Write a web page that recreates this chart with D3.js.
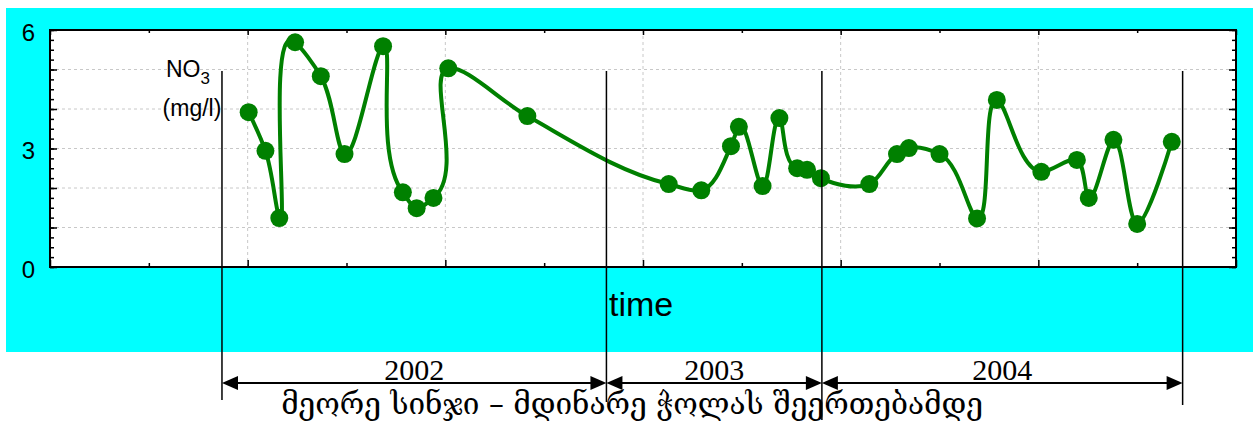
<!DOCTYPE html>
<html>
<head>
<meta charset="utf-8">
<script src="https://cdn.jsdelivr.net/npm/d3@7"></script>
<style>
  body { margin: 0; background: #fff; }
  svg { display: block; }
</style>
</head>
<body>
<div id="chart"></div>
<script>
(function () {

    var width = 1259;
    var height = 428;

    // sample position along the time axis (axis units) and NO3 concentration (mg/l)
    var sampleTime = [2.01, 2.18, 2.32, 2.48, 2.74, 2.98, 3.37, 3.57, 3.71, 3.88, 4.03, 4.83,
        6.26, 6.59, 6.89, 6.97, 7.21, 7.38, 7.56, 7.66, 7.80,
        8.29, 8.57, 8.69, 9.00, 9.38, 9.58, 10.03, 10.39, 10.51, 10.76, 11.00, 11.35];
    var no3 = [3.92, 2.94, 1.24, 5.69, 4.83, 2.86, 5.59, 1.89, 1.49, 1.75, 5.03, 3.82,
        2.10, 1.94, 3.06, 3.55, 2.05, 3.77, 2.50, 2.46, 2.25,
        2.10, 2.86, 3.01, 2.86, 1.23, 4.23, 2.41, 2.71, 1.75, 3.22, 1.09, 3.17];

    var yearBounds = [1.74, 5.63, 7.81, 11.46];
    var years = ["2002", "2003", "2004"];
    var yLabels = [0, 3, 6];
    var caption = "მეორე სინჯი – მდინარე ჭოლას შეერთებამდე";

    var margin = {left: 50, top: 30, right: 1236, bottom: 267};

    var x = d3.scaleLinear().domain([0, 12]).range([margin.left, margin.right]);
    var y = d3.scaleLinear().domain([0, 6]).range([margin.bottom, margin.top]);

    var svg = d3.select("#chart")
        .append("svg")
        .attr("width", width)
        .attr("height", height)
        .style("font-family", "'Liberation Sans', Arial, sans-serif");

    // background panel
    svg.append("rect")
        .attr("x", 6).attr("y", 8)
        .attr("width", 1247).attr("height", 344)
        .attr("fill", "#00ffff");

    svg.append("rect")
        .attr("x", x(0)).attr("y", y(6))
        .attr("width", x(12) - x(0)).attr("height", y(0) - y(6))
        .attr("fill", "#fff");

    // grid
    var grid = svg.append("g").attr("stroke", "#c8c8c8").attr("stroke-dasharray", "3,3").attr("stroke-width", 1);
    grid.selectAll(".gy").data([1, 2, 3, 4, 5]).enter().append("line")
        .attr("x1", x(0)).attr("x2", x(12))
        .attr("y1", function (d) { return y(d); })
        .attr("y2", function (d) { return y(d); });
    grid.selectAll(".gx").data([2, 4, 6, 8, 10]).enter().append("line")
        .attr("y1", y(0)).attr("y2", y(6))
        .attr("x1", function (d) { return x(d); })
        .attr("x2", function (d) { return x(d); });

    // axes (ticks inside)
    var majorY = d3.range(0, 7, 1);
    var minorY = d3.range(0, 6.01, 0.25);
    var majorX = d3.range(0, 13, 2);
    var minorX = d3.range(1, 12, 2);

    function tidy(g) {
        g.select(".domain").remove();
        g.selectAll("line").attr("stroke", "#000").attr("stroke-width", 1.5);
    }

    svg.append("g").attr("transform", "translate(" + x(0) + ",0)")
        .call(d3.axisLeft(y).tickValues(minorY).tickSize(-4).tickFormat("")).call(tidy);
    svg.append("g").attr("transform", "translate(" + x(0) + ",0)")
        .call(d3.axisLeft(y).tickValues(majorY).tickSize(-7).tickPadding(15)
            .tickFormat(function (d) { return yLabels.indexOf(d) >= 0 ? d : ""; }))
        .call(tidy)
        .selectAll("text")
        .attr("dy", "0.42em")
        .attr("font-size", 24)
        .attr("font-family", "'Liberation Sans', Arial, sans-serif")
        .attr("fill", "#000");

    svg.append("g").attr("transform", "translate(" + x(12) + ",0)")
        .call(d3.axisRight(y).tickValues(minorY).tickSize(-4).tickFormat("")).call(tidy);
    svg.append("g").attr("transform", "translate(" + x(12) + ",0)")
        .call(d3.axisRight(y).tickValues(majorY).tickSize(-7).tickFormat("")).call(tidy);

    svg.append("g").attr("transform", "translate(0," + y(0) + ")")
        .call(d3.axisBottom(x).tickValues(minorX).tickSize(-4).tickFormat("")).call(tidy);
    svg.append("g").attr("transform", "translate(0," + y(0) + ")")
        .call(d3.axisBottom(x).tickValues(majorX).tickSize(-7).tickFormat("")).call(tidy);
    svg.append("g").attr("transform", "translate(0," + y(6) + ")")
        .call(d3.axisTop(x).tickValues(minorX).tickSize(-3).tickFormat("")).call(tidy);
    svg.append("g").attr("transform", "translate(0," + y(6) + ")")
        .call(d3.axisTop(x).tickValues(majorX).tickSize(-5).tickFormat("")).call(tidy);

    svg.append("rect")
        .attr("x", x(0)).attr("y", y(6))
        .attr("width", x(12) - x(0)).attr("height", y(0) - y(6))
        .attr("fill", "none").attr("stroke", "#000").attr("stroke-width", 2);

    // data line + markers
    var data = sampleTime.map(function (t, i) { return {t: t, v: no3[i]}; });

    var line = d3.line()
        .x(function (d) { return x(d.t); })
        .y(function (d) { return y(d.v); })
        .curve(d3.curveCatmullRom.alpha(1));

    svg.append("path")
        .datum(data)
        .attr("d", line)
        .attr("fill", "none")
        .attr("stroke", "#008000")
        .attr("stroke-width", 4);

    svg.selectAll(".pt")
        .data(data)
        .enter().append("circle")
        .attr("class", "pt")
        .attr("cx", function (d) { return x(d.t); })
        .attr("cy", function (d) { return y(d.v); })
        .attr("r", 9)
        .attr("fill", "#008000");

    // y title
    var t1 = svg.append("text")
        .attr("x", 166).attr("y", 77)
        .attr("font-size", 23).attr("fill", "#000");
    t1.append("tspan").text("NO");
    t1.append("tspan").attr("dy", 7).attr("font-size", 17).text("3");
    svg.append("text")
        .attr("x", 192).attr("y", 116)
        .attr("text-anchor", "middle")
        .attr("font-size", 23).attr("fill", "#000")
        .text("(mg/l)");

    // x title
    svg.append("text")
        .attr("x", 609).attr("y", 316)
        .attr("font-size", 34).attr("fill", "#000")
        .text("time");

    // year boundaries
    var lineBottoms = [400, 402, 420, 405];
    svg.selectAll(".yb")
        .data(yearBounds)
        .enter().append("line")
        .attr("x1", function (d) { return x(d); })
        .attr("x2", function (d) { return x(d); })
        .attr("y1", 71)
        .attr("y2", function (d, i) { return lineBottoms[i]; })
        .attr("stroke", "#000").attr("stroke-width", 1.5);

    var arrowY = 383;
    var ah = 16, aw = 7;
    years.forEach(function (yr, i) {
        var a = x(yearBounds[i]), b = x(yearBounds[i + 1]);
        svg.append("line")
            .attr("x1", a + ah - 2).attr("x2", b - ah + 2)
            .attr("y1", arrowY).attr("y2", arrowY)
            .attr("stroke", "#000").attr("stroke-width", 2);
        svg.append("path")
            .attr("d", "M" + a + "," + arrowY + "L" + (a + ah) + "," + (arrowY - aw) + "L" + (a + ah) + "," + (arrowY + aw) + "Z")
            .attr("fill", "#000");
        svg.append("path")
            .attr("d", "M" + b + "," + arrowY + "L" + (b - ah) + "," + (arrowY - aw) + "L" + (b - ah) + "," + (arrowY + aw) + "Z")
            .attr("fill", "#000");
        svg.append("text")
            .attr("x", (a + b) / 2).attr("y", 380)
            .attr("text-anchor", "middle")
            .attr("font-family", "'Liberation Serif', 'Times New Roman', serif")
            .attr("font-size", 30).attr("fill", "#000")
            .text(yr);
    });

    // caption
    var cap = svg.append("text")
        .attr("x", 632).attr("y", 414)
        .attr("text-anchor", "middle")
        .attr("font-family", "'DejaVu Serif', 'DejaVu Sans', serif")
        .attr("font-size", 24).attr("fill", "#000")
        .text(caption);
    var w = cap.node().getComputedTextLength();
    if (w > 0) cap.attr("font-size", 24 * 702 / w);

})();
</script>
</body>
</html>
